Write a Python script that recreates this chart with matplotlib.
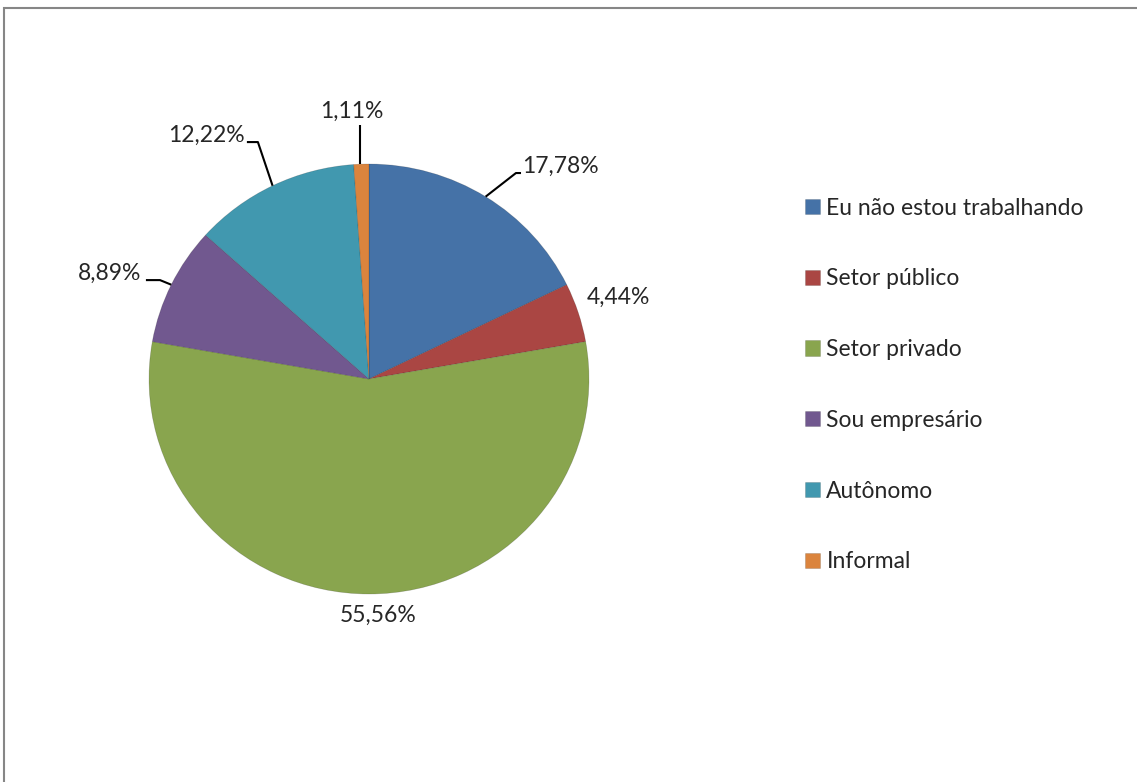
import numpy as np
import matplotlib
matplotlib.use("Agg")
import matplotlib.pyplot as plt
from matplotlib.patches import Rectangle

# dados do gráfico
categorias = ['Eu não estou trabalhando', 'Setor público', 'Setor privado',
              'Sou empresário', 'Autônomo', 'Informal']
valores = [17.78, 4.44, 55.56, 8.89, 12.22, 1.11]
rotulos = ['17,78%', '4,44%', '55,56%', '8,89%', '12,22%', '1,11%']
cores = ['#4572A7', '#AA4643', '#89A54E', '#71588F', '#4198AF', '#DB843D']

plt.rcParams['font.family'] = ['Lato', 'DejaVu Sans']
cor_texto = '#262626'
tam = 16.5

W, H = 1137, 782
fig = plt.figure(figsize=(W / 100, H / 100), dpi=100)

# eixo da pizza (centro ~ (369, 379) px, raios 220 x 215 px)
ax = fig.add_axes([(369 - 220) / W, (H - 379 - 215) / H, 440 / W, 430 / H])
wedges, _ = ax.pie(valores, colors=cores, startangle=90, counterclock=False,
                   radius=1.0, wedgeprops=dict(linewidth=0.5, edgecolor='#00000030'))
ax.set_xlim(-1, 1)
ax.set_ylim(-1, 1)
ax.set_aspect('auto')
ax.axis('off')

# posição dos rótulos (coordenadas do eixo) e cotovelo da linha guia
pos_rotulos = [(0.695, 0.99, 'left'), (0.99, 0.38, 'left'), (0.04, -1.10, 'center'),
               (-1.036, 0.493, 'right'), (-0.564, 1.135, 'right'), (-0.077, 1.247, 'center')]
linhas_guia = [[(0.691, 0.958), (0.668, 0.958)], None, None,
               [(-1.014, 0.46), (-0.95, 0.46)],
               [(-0.555, 1.102), (-0.505, 1.102)],
               [(-0.04, 1.18)]]

for w, txt, (x, y, ha), guia in zip(wedges, rotulos, pos_rotulos, linhas_guia):
    ax.text(x, y, txt, ha=ha, va='center', fontsize=tam, color=cor_texto, clip_on=False)
    if guia is not None:
        ang = np.deg2rad((w.theta1 + w.theta2) / 2)
        borda = (np.cos(ang), np.sin(ang))
        pts = guia + [borda]
        if len(guia) == 1:
            pts = [guia[0], (guia[0][0], borda[1])]
        xs, ys = zip(*pts)
        ax.plot(xs, ys, color='black', lw=1.5, clip_on=False, solid_capstyle='butt')

fig.legend(wedges, categorias, loc='upper left', bbox_to_anchor=(784 / W, 1 - 177 / H),
           frameon=False, fontsize=tam, handlelength=0.65, handleheight=0.65,
           handletextpad=0.3, labelspacing=2.17, labelcolor=cor_texto)

# moldura cinza (só topo e esquerda visíveis)
fig.patches.append(Rectangle((3.5 / W, -0.05), 1.2, (H - 8) / H + 0.05,
                             transform=fig.transFigure, fill=False,
                             edgecolor='#868686', lw=1.5, clip_on=False))

fig.savefig('out.png', dpi=100)
